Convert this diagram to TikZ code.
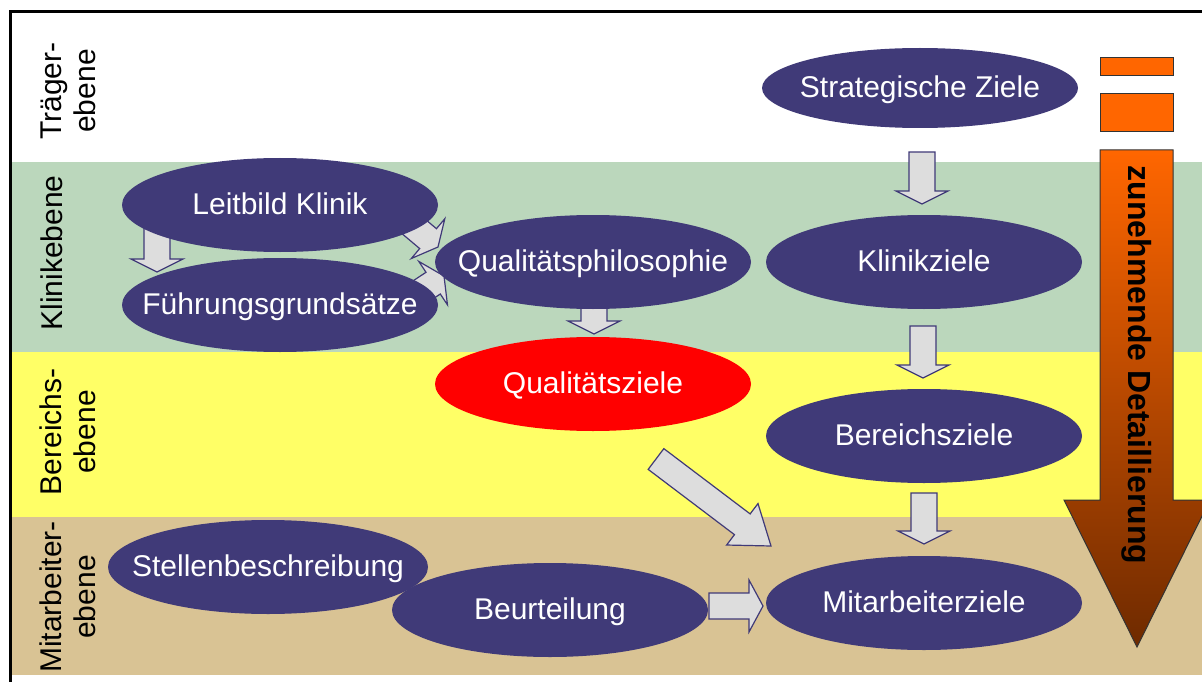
\documentclass[tikz,border=0pt]{standalone}
\usepackage{fontspec}
\setmainfont{Liberation Sans}
\usepackage{xcolor}
\usepackage{tikz}
\usetikzlibrary{shapes.geometric, calc}

\definecolor{zielblau}{HTML}{403A78}
\definecolor{klinikgruen}{HTML}{BBD7BC}
\definecolor{bereichgelb}{HTML}{FFFF66}
\definecolor{mitarbeiterbraun}{HTML}{D9C394}
\definecolor{pfeilgrau}{HTML}{DDDDDD}
\definecolor{balkenorange}{HTML}{FF6600}
\definecolor{balkenbraun}{HTML}{6E2A00}

\newcommand{\blockpfeil}[3][13pt]{%
  \coordinate (hals) at ($(#3)!#1!(#2)$);
  \filldraw[pfeil] ($(#2)!13pt!90:(#3)$) -- ($(hals)!13pt!-90:(#2)$) -- ($(hals)!26pt!-90:(#2)$)
    -- (#3) -- ($(hals)!26pt!90:(#2)$) -- ($(hals)!13pt!90:(#2)$) -- ($(#2)!13pt!-90:(#3)$) -- cycle;}

\begin{document}
\begin{tikzpicture}[x=1pt, y=-1pt,
      ziel/.style={ellipse, fill=zielblau, text=white, minimum width=316pt, minimum height=94pt,
        inner xsep=-60pt, inner ysep=0pt, text height=22pt, text depth=3pt, font=\fontsize{30}{34}\selectfont},
      ebene/.style={rotate=90, align=center, font=\fontsize{30}{34}\selectfont},
      pfeil/.style={fill=pfeilgrau, draw=zielblau, line width=1.2pt, line join=miter},
      balken/.style={fill=balkenorange, draw=black!80, line width=1pt}]
  \useasboundingbox (0,0) rectangle (1202,682);
  \fill[klinikgruen] (12,162) rectangle (1202,352);
  \fill[bereichgelb] (12,352) rectangle (1202,517);
  \fill[mitarbeiterbraun] (12,517) rectangle (1202,675);
  \draw[line width=3pt] (10.5,682) -- (10.5,11.5) -- (1202,11.5);

  \coordinate (strat-a) at (922,152);
  \coordinate (strat-b) at (922,204);
  \coordinate (klinik-a) at (923,326);
  \coordinate (klinik-b) at (923,378);
  \coordinate (bereich-a) at (924,493);
  \coordinate (bereich-b) at (924,544);
  \coordinate (leitbild-a) at (157,228);
  \coordinate (leitbild-b) at (157,272);
  \coordinate (leitbild-c) at (400,215);
  \coordinate (leitbild-d) at (438,247);
  \coordinate (fuehrung-a) at (394,309);
  \coordinate (fuehrung-b) at (444,276);
  \coordinate (qphil-a) at (594,300);
  \coordinate (qphil-b) at (594,334);
  \coordinate (qziele-a) at (656,459);
  \coordinate (qziele-b) at (771,546);
  \coordinate (beurteilung-a) at (709,606);
  \coordinate (beurteilung-b) at (763,606);

  \blockpfeil{strat-a}{strat-b}
  \blockpfeil{klinik-a}{klinik-b}
  \blockpfeil{bereich-a}{bereich-b}
  \blockpfeil{leitbild-a}{leitbild-b}
  \blockpfeil{leitbild-c}{leitbild-d}
  \blockpfeil{fuehrung-a}{fuehrung-b}
  \blockpfeil{qphil-a}{qphil-b}
  \blockpfeil[36pt]{qziele-a}{qziele-b}
  \blockpfeil[14pt]{beurteilung-a}{beurteilung-b}

  \node[ziel, minimum height=80pt] (strat) at (920,88) {Strategische Ziele};
  \node[ziel] (leitbild) at (280,205) {Leitbild Klinik};
  \node[ziel] (fuehrung) at (280,305) {Führungsgrundsätze};
  \node[ziel] (qphil) at (593,262) {Qualitätsphilosophie};
  \node[ziel] (klinik) at (924,262) {Klinikziele};
  \node[ziel, fill=red] (qziele) at (593,384) {Qualitätsziele};
  \node[ziel] (bereich) at (924,436) {Bereichsziele};
  \node[ziel, minimum width=320pt] (stellen) at (268,567) {Stellenbeschreibung};
  \node[ziel] (beurteilung) at (550,610) {Beurteilung};
  \node[ziel] (mitarb) at (924,603) {Mitarbeiterziele};

  \node[ebene] (traeger) at (68,91) {Träger-\\ebene};
  \node[ebene] (klinikebene) at (52,253) {Klinikebene};
  \node[ebene] (bereichsebene) at (68,432) {Bereichs-\\ebene};
  \node[ebene] (mitarbeiterebene) at (68,597) {Mitarbeiter-\\ebene};

  \filldraw[balken] (1100,58) rectangle (1173,76);
  \filldraw[balken] (1100,94) rectangle (1173,132);
  \shade[top color=balkenorange, bottom color=balkenbraun, draw=black!80, line width=1pt]
    (1100,150) -- (1173,150) -- (1173,500) -- (1210,500) -- (1137,647) -- (1064,500) -- (1100,500) -- cycle;
  \node[rotate=-90, font=\bfseries\fontsize{32}{36}\selectfont] (detail) at (1137,365) {zunehmende Detaillierung};
\end{tikzpicture}
\end{document}
